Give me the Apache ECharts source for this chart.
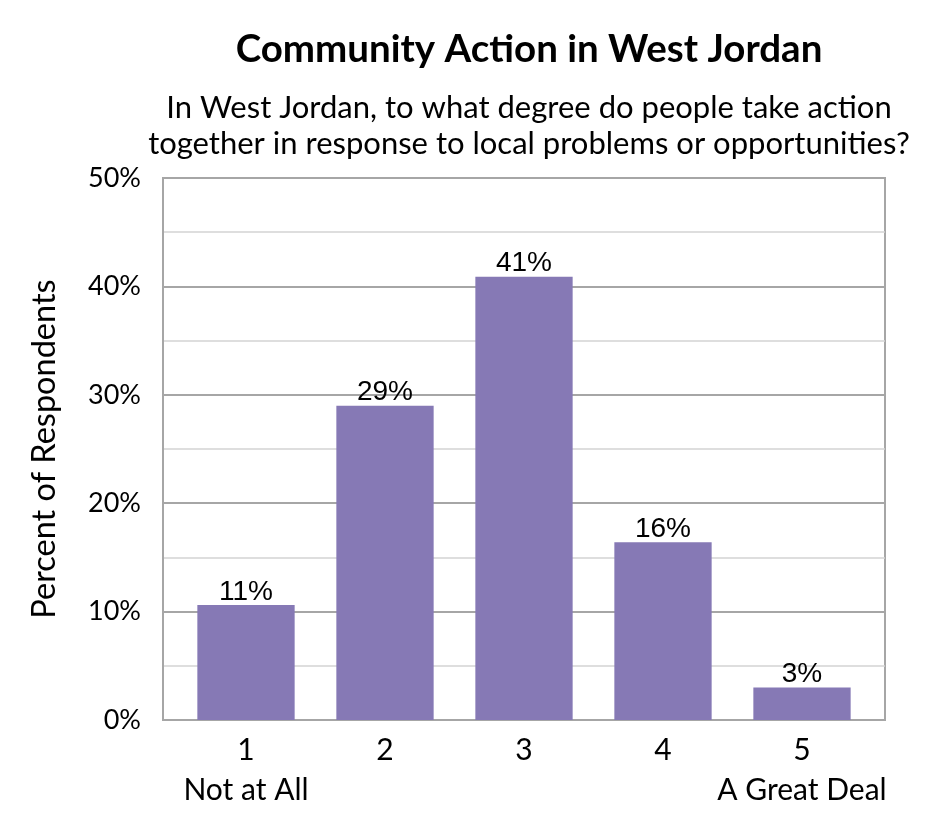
<!DOCTYPE html>
<html>
<head>
<meta charset="utf-8">
<script src="https://cdn.jsdelivr.net/npm/echarts@6/dist/echarts.min.js"></script>
<style>
	html,body{margin:0;padding:0;background:#fff;}
	#chart{width:945px;height:840px;}
</style>
</head>
<body>
<div id="chart"></div>
<script>
var categories = ["1\nNot at All", "2", "3", "4", "5\nA Great Deal"];
var percentValues = [10.6, 29.0, 40.9, 16.4, 3.0];
var yTicks = [0, 10, 20, 30, 40, 50];
var labelFont = "Lato";
var barColor = "#8679b5";
var lineColor = "#a6a6a6";

var myChart = echarts.init(document.getElementById("chart"));
var option = {
	backgroundColor: "#fff",
	title: [
		{
			text: "Community Action in West Jordan",
			left: 524,
			top: 25,
			textAlign: "center",
			textStyle: {fontFamily: labelFont, fontSize: 38.5, fontWeight: "bold", color: "#000"}
		},
		{
			text: "In West Jordan, to what degree do people take action\ntogether in response to local problems or opportunities?",
			left: 524,
			top: 85,
			textAlign: "center",
			textStyle: {fontFamily: labelFont, fontSize: 31, fontWeight: "normal", color: "#000", lineHeight: 36}
		}
	],
	grid: [
		// bars sit in a slightly narrower band than the frame
		{left: 176.5, right: 73.5, top: 178, bottom: 120},
		{left: 163, right: 60, top: 178, bottom: 120, show: true, borderColor: lineColor, borderWidth: 2}
	],
	xAxis: [
		{
			type: "category",
			gridIndex: 0,
			data: categories,
			axisTick: {show: false},
			axisLine: {show: false},
			axisLabel: {
				color: "#000",
				fontFamily: labelFont,
				fontSize: 30,
				margin: 10,
				lineHeight: 40,
				interval: 0
			}
		},
		{
			type: "value",
			gridIndex: 1,
			min: 0,
			max: 1,
			show: true,
			axisLine: {show: true, lineStyle: {color: lineColor, width: 2}},
			axisTick: {show: false},
			axisLabel: {show: false},
			splitLine: {show: false}
		}
	],
	yAxis: [
		{
			type: "value",
			gridIndex: 0,
			min: yTicks[0],
			max: yTicks[yTicks.length - 1],
			interval: 10,
			show: false
		},
		{
			type: "value",
			gridIndex: 1,
			min: yTicks[0],
			max: yTicks[yTicks.length - 1],
			interval: 10,
			name: "Percent of Respondents",
			nameLocation: "middle",
			nameGap: 102,
			nameTextStyle: {fontFamily: labelFont, fontSize: 32.5, color: "#000"},
			axisLine: {show: true, lineStyle: {color: lineColor, width: 2}},
			axisTick: {show: false},
			axisLabel: {
				color: "#000",
				fontFamily: labelFont,
				fontSize: 27,
				margin: 22,
				formatter: "{value}%"
			},
			splitLine: {lineStyle: {color: lineColor, width: 2}},
			minorTick: {show: false, splitNumber: 2},
			minorSplitLine: {show: true, lineStyle: {color: "#d4d4d4", width: 1.5}}
		}
	],
	series: [
		{
			type: "bar",
			xAxisIndex: 0,
			yAxisIndex: 0,
			data: percentValues,
			barWidth: "70%",
			itemStyle: {color: barColor},
			z: 3,
			label: {
				show: true,
				position: "top",
				distance: -1,
				color: "#000",
				fontFamily: "Liberation Sans",
				fontSize: 28,
				formatter: function(p){ return Math.round(p.value) + "%"; }
			}
		}
	]
};
myChart.setOption(option);
</script>
</body>
</html>
